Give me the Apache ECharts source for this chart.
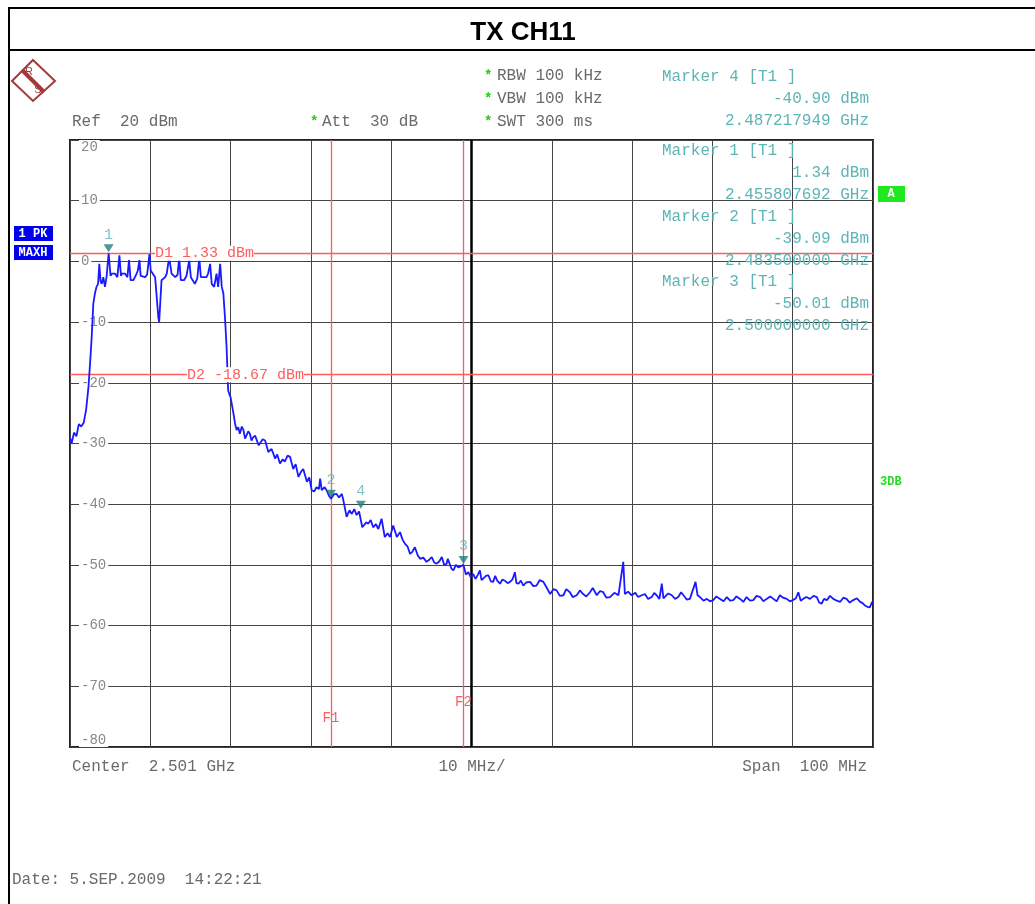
<!DOCTYPE html>
<html>
<head>
<meta charset="utf-8">
<script src="https://cdn.jsdelivr.net/npm/echarts@6/dist/echarts.min.js"></script>
<style>
  html, body { margin: 0; padding: 0; background: #fff; }
  #main { width: 1035px; height: 904px; }
</style>
</head>
<body>
<div id="main"></div>
<script>
// trace: offset from center 2.501 GHz in MHz, level in dBm
var traceMHz = [
  -50.0, -49.8, -49.5, -49.2, -48.9, -48.6, -48.3, -48.0, -47.7, -47.5, -47.3, -47.1, -46.9, -46.7, -46.5,
  -46.35, -46.2, -46.05, -45.85, -45.65, -45.45, -45.19, -44.95, -44.8, -44.4, -44.1, -43.85, -43.65, -43.55,
  -43.15, -42.85, -42.65, -42.45, -42.1, -41.7, -41.55, -41.35, -41.2, -41.05, -40.65, -40.4, -40.1, -39.95,
  -39.4, -39.0, -38.9, -38.7, -38.6, -38.15, -37.95, -37.65, -37.35, -36.9, -36.6, -36.4, -36.2, -35.8, -35.5,
  -35.15, -34.95, -34.45, -34.15, -33.9, -33.7, -33.0, -32.8, -32.55, -32.35, -32.05, -31.75, -31.55, -31.3,
  -31.1, -30.9, -30.7, -30.5, -30.3, -30.0, -29.65, -29.45, -29.25, -29.05, -28.85, -28.6, -28.4, -28.2, -28.0,
  -27.8, -27.6, -27.4, -27.2, -26.95, -26.75, -26.5, -26.35, -26.0, -25.7, -25.3, -24.9, -24.45, -24.2, -23.85,
  -23.5, -23.25, -22.9, -22.6, -22.2, -21.9, -21.55, -21.2, -20.95, -20.5, -20.2, -19.9, -19.6, -19.3, -19.0,
  -18.85, -18.65, -18.3, -18.05, -17.75, -17.5, -17.15, -16.8, -16.5, -16.15, -15.95, -15.55, -15.2, -14.9,
  -14.6, -14.3, -14.0, -13.78, -13.6, -13.45, -13.1, -12.85, -12.55, -12.25, -11.9, -11.6, -11.2, -10.8, -10.45,
  -10.15, -9.75, -9.3, -8.9, -8.6, -8.3, -7.95, -7.65, -7.35, -7.05, -6.7, -6.4, -6.0, -5.6, -5.3, -4.95, -4.65,
  -4.35, -4.0, -3.7, -3.4, -3.1, -2.95, -2.75, -2.5, -2.25, -1.95, -1.65, -1.3, -1.0, -0.7, -0.4, -0.1, 0.2, 0.5,
  0.8, 1.05, 1.25, 1.45, 1.8, 2.1, 2.4, 2.7, 2.95, 3.2, 3.55, 3.85, 4.15, 4.5, 4.8, 5.1, 5.4, 5.6, 5.85, 6.15,
  6.45, 6.8, 7.3, 7.7, 8.1, 8.5, 8.95, 9.3, 9.8, 10.2, 10.6, 11.0, 11.45, 11.8, 12.25, 12.6, 13.1, 13.5, 13.9,
  14.3, 14.75, 15.1, 15.6, 16.0, 16.4, 16.8, 17.25, 17.8, 18.3, 18.9, 19.1, 19.5, 19.95, 20.4, 20.75, 21.2, 21.6,
  22.0, 22.45, 22.75, 23.05, 23.4, 23.7, 23.9, 24.1, 24.5, 24.95, 25.35, 25.75, 26.1, 26.4, 26.8, 27.2, 27.9,
  28.15, 28.45, 28.9, 29.3, 29.7, 30.1, 30.5, 30.95, 31.4, 31.8, 32.2, 32.6, 33.0, 33.45, 33.85, 34.25, 34.7,
  35.1, 35.5, 35.95, 36.35, 36.75, 37.2, 37.6, 38.0, 38.4, 38.8, 39.25, 39.65, 40.05, 40.4, 40.7, 41.0, 41.3,
  41.7, 42.15, 42.6, 43.0, 43.3, 43.6, 43.9, 44.25, 44.65, 45.05, 45.5, 45.9, 46.3, 46.7, 47.1, 47.55, 48.0,
  48.4, 48.7, 49.0, 49.3, 49.6, 49.9, 50.0
];
var traceDbm = [
  -29.0, -30.0, -28.2, -28.8, -26.8, -27.2, -26.6, -24.5, -20.7, -16.8, -12.5, -7.0, -5.3, -4.2, -3.7,
  -0.4, -3.2, -3.7, -2.6, -4.2, -2.6, 1.34, -2.4, -2.0, -2.0, -2.6, 1.0, -2.4, -2.0,
  -2.0, -2.6, 0.2, -3.1, -3.1, -2.0, -1.5, 0.2, -2.4, -2.6, -2.6, -2.2, 1.2, -1.5,
  -2.6, -9.2, -10.0, -10.0, -3.1, -2.6, -2.0, 0.7, -2.0, -2.6, -2.2, 0.7, -3.1, -3.1, -2.4,
  0.2, -2.6, -3.7, -2.8, 0.5, -2.6, -2.6, -2.0, -0.4, -3.7, -4.2, -2.0, -4.2, -0.4,
  -4.2, -5.3, -9.2, -14.1, -21.3, -22.4, -25.0, -26.7, -27.8, -27.3, -28.4, -27.2, -27.8, -29.2, -29.0,
  -28.0, -28.4, -29.5, -29.0, -28.7, -29.0, -30.3, -30.0, -29.3, -29.5, -31.4, -30.9, -32.5, -31.8, -33.3,
  -32.6, -33.0, -32.0, -32.2, -34.2, -33.4, -35.5, -34.6, -34.2, -36.3, -35.6, -37.7, -37.9, -37.2, -37.5,
  -35.8, -37.7, -37.2, -37.7, -38.6, -39.1, -38.4, -38.3, -38.9, -38.3, -39.4, -42.1, -41.0, -41.6,
  -40.8, -41.8, -41.2, -40.9, -43.8, -43.8, -43.0, -43.2, -42.6, -43.8, -43.3, -44.1, -42.4, -45.4, -44.8,
  -45.4, -43.5, -45.4, -44.6, -45.8, -46.5, -47.0, -48.2, -47.8, -47.1, -48.4, -49.0, -48.8, -49.5, -49.2, -48.7, -49.6,
  -49.8, -49.4, -48.7, -50.0, -49.8, -49.0, -48.7, -50.6, -50.9, -50.0, -50.4, -50.2, -50.0, -51.6, -51.2, -52.0, -51.5, -52.3,
  -51.6, -50.9, -52.5, -52.6, -51.8, -51.7, -52.7, -52.8, -51.8, -52.6, -53.1, -52.4, -52.6, -53.0, -52.8, -52.4, -51.2, -53.0, -53.1, -52.6,
  -53.4, -52.9, -52.8, -53.5, -53.4, -52.5, -52.8, -53.6, -54.8, -54.0, -54.2, -55.1, -55.0, -54.0, -54.5, -55.3, -55.0, -54.2, -54.8,
  -55.2, -54.5, -53.8, -55.0, -54.3, -54.5, -55.4, -55.3, -54.6, -55.0, -49.5, -54.8, -54.4, -55.0, -54.6, -55.3, -55.0, -54.8,
  -55.6, -55.3, -54.6, -55.0, -55.6, -53.1, -55.5, -55.3, -54.7, -55.0, -55.6, -55.3, -54.5, -55.0, -55.7, -55.6, -52.8,
  -55.0, -55.3, -55.9, -55.6, -56.0, -55.8, -55.2, -55.6, -56.0, -55.3, -55.9, -55.8, -55.2, -55.6, -56.1, -55.3, -55.9,
  -55.8, -55.1, -55.3, -56.0, -55.6, -55.2, -55.6, -56.0, -55.0, -55.4, -55.6, -56.0, -55.8, -55.5, -54.5, -55.9, -55.6,
  -55.3, -55.6, -55.1, -55.3, -56.2, -56.4, -55.6, -55.8, -55.1, -55.6, -55.9, -56.1, -55.4, -55.6, -56.2, -55.8, -55.5,
  -56.1, -56.3, -56.7, -56.9, -57.0, -56.1, -56.3
];

// markers
var markerNames = ['1', '2', '3', '4'];
var markerMHz = [-45.192, -17.5, -1.0, -13.782];
var markerDbm = [1.34, -39.09, -50.01, -40.90];
var markerFreqText = ['2.455807692 GHz', '2.483500000 GHz', '2.500000000 GHz', '2.487217949 GHz'];
var markerListOrder = [3, 0, 1, 2];

// display lines and frequency lines
var dLineNames = ['D1', 'D2'];
var dLineDbm = [1.33, -18.67];
var fLineNames = ['F1', 'F2'];
var fLineMHz = [-17.5, -1.0];

var yTicks = [20, 10, 0, -10, -20, -30, -40, -50, -60, -70, -80];

var mono = '"Liberation Mono", "DejaVu Sans Mono", monospace';
var grey = '#6a6a6a';
var teal = '#5db5b5';
var red = '#ff5c5c';

var chart = echarts.init(document.getElementById('main'));

var tracePts = traceMHz.map(function (f, i) { return [f, traceDbm[i]]; });
var markerPts = markerMHz.map(function (f, i) { return { value: [f, markerDbm[i]], name: markerNames[i] }; });

var option = {
  animation: false,
  backgroundColor: '#fff',
  grid: { left: 70, top: 140, right: 162, bottom: 157, show: true, borderColor: '#222', borderWidth: 2 },
  xAxis: {
    type: 'value', min: -50, max: 50, interval: 10,
    axisLine: { show: false }, axisTick: { show: false }, axisLabel: { show: false },
    splitLine: { show: true, lineStyle: { color: '#444', width: 1 } }
  },
  yAxis: {
    type: 'value', min: -80, max: 20, interval: 10,
    axisLine: { show: false }, axisTick: { show: false },
    axisLabel: {
      inside: true, margin: 9, color: '#888', fontFamily: mono, fontSize: 14,
      backgroundColor: '#fff', padding: [0, 2],
      verticalAlignMaxLabel: 'top', verticalAlignMinLabel: 'bottom',
      formatter: function (v) { return yTicks.indexOf(v) >= 0 ? String(v) : ''; }
    },
    splitLine: { show: true, lineStyle: { color: '#444', width: 1 } }
  },
  series: [
    {
      type: 'line', data: [], silent: true,
      markLine: {
        symbol: 'none', silent: true, label: { show: false },
        data: [{ xAxis: 0, lineStyle: { color: '#000', width: 2.5, type: 'solid' } }]
      }
    },
    {
      type: 'line', data: [], silent: true,
      markLine: {
        symbol: 'none', silent: true, label: { show: false },
        lineStyle: { color: red, width: 1.3, type: 'solid' },
        data: dLineDbm.map(function (v) { return { yAxis: v }; })
          .concat(fLineMHz.map(function (v) { return { xAxis: v }; }))
      }
    },
    {
      type: 'line', data: tracePts, showSymbol: false, smooth: false,
      lineStyle: { color: '#1a1aff', width: 1.8 }, z: 5
    },
    {
      type: 'scatter', data: markerPts, symbol: 'triangle', symbolRotate: 180,
      symbolSize: [10, 8], symbolOffset: [0, -5],
      itemStyle: { color: '#1d7f7c' }, z: 6,
      label: {
        show: true, position: 'top', distance: 2, color: teal,
        fontFamily: mono, fontSize: 15, formatter: function (p) { return p.name; }
      }
    }
  ]
};
chart.setOption(option);

function px(x, y) { return chart.convertToPixel({ gridIndex: 0 }, [x, y]); }

var g = [];
// outer frame and title
g.push({ type: 'line', shape: { x1: 8, y1: 8, x2: 1035, y2: 8 }, style: { stroke: '#000', lineWidth: 2 } });
g.push({ type: 'line', shape: { x1: 8, y1: 50, x2: 1035, y2: 50 }, style: { stroke: '#000', lineWidth: 2 } });
g.push({ type: 'line', shape: { x1: 9, y1: 8, x2: 9, y2: 904 }, style: { stroke: '#000', lineWidth: 2 } });
g.push({ type: 'text', x: 523, y: 33, style: { text: 'TX CH11', font: 'bold 26px "Liberation Sans", Arial, sans-serif', fill: '#000', align: 'center', verticalAlign: 'middle' } });

// R&S logo
g.push({ type: 'polygon', shape: { points: [[33, 60], [55, 81], [33, 101], [12, 81]] }, style: { fill: 'none', stroke: '#a33a3a', lineWidth: 2 } });
g.push({ type: 'line', shape: { x1: 22, y1: 70, x2: 44, y2: 92 }, style: { stroke: '#a33a3a', lineWidth: 4 } });
g.push({ type: 'text', x: 29, y: 72, style: { text: 'R', font: '11px "Liberation Sans", sans-serif', fill: '#a33a3a', align: 'center', verticalAlign: 'middle' } });
g.push({ type: 'text', x: 38, y: 90, style: { text: 'S', font: '11px "Liberation Sans", sans-serif', fill: '#a33a3a', align: 'center', verticalAlign: 'middle' } });

function txt(x, y, s, color, align) {
  g.push({ type: 'text', x: x, y: y, z: 10, style: { text: s, font: '16px ' + mono, fill: color || grey, align: align || 'left', verticalAlign: 'middle' } });
}
function star(x, y) {
  g.push({ type: 'text', x: x, y: y, z: 10, style: { text: '*', font: 'bold 14px ' + mono, fill: '#22cc22', align: 'left', verticalAlign: 'middle' } });
}

// settings
star(484, 76); txt(497, 76, 'RBW 100 kHz');
star(484, 99); txt(497, 99, 'VBW 100 kHz');
star(484, 122); txt(497, 122, 'SWT 300 ms');
txt(72, 122, 'Ref  20 dBm');
star(310, 122); txt(322, 122, 'Att  30 dB');

// marker info block: first entry above the diagram, the rest stacked inside it
markerListOrder.forEach(function (mi, k) {
  var y0 = k === 0 ? 77 : 151 + (k - 1) * 65.5;
  txt(662, y0, 'Marker ' + markerNames[mi] + ' [T1 ]', teal);
  txt(869, y0 + 22, markerDbm[mi].toFixed(2) + ' dBm', teal, 'right');
  txt(869, y0 + 44, markerFreqText[mi], teal, 'right');
});

// side badges
g.push({ type: 'rect', shape: { x: 14, y: 226, width: 39, height: 15 }, style: { fill: '#0000ee' } });
g.push({ type: 'text', x: 33, y: 234, style: { text: '1 PK', font: 'bold 12px ' + mono, fill: '#fff', align: 'center', verticalAlign: 'middle' } });
g.push({ type: 'rect', shape: { x: 14, y: 245, width: 39, height: 15 }, style: { fill: '#0000ee' } });
g.push({ type: 'text', x: 33, y: 253, style: { text: 'MAXH', font: 'bold 12px ' + mono, fill: '#fff', align: 'center', verticalAlign: 'middle' } });
g.push({ type: 'rect', shape: { x: 878, y: 186, width: 27, height: 16 }, style: { fill: '#1fe81f' } });
g.push({ type: 'text', x: 891, y: 194, style: { text: 'A', font: 'bold 12px ' + mono, fill: '#fff', align: 'center', verticalAlign: 'middle' } });
g.push({ type: 'text', x: 880, y: 482, style: { text: '3DB', font: 'bold 12px ' + mono, fill: '#22dd22', align: 'left', verticalAlign: 'middle' } });

// display-line labels
var dLabelStart = [155, 187];
dLineNames.forEach(function (n, i) {
  var p = px(0, dLineDbm[i]);
  g.push({ type: 'text', x: dLabelStart[i], y: p[1], z: 10, style: {
    text: n + ' ' + dLineDbm[i].toFixed(2) + ' dBm', font: '15px ' + mono, fill: red,
    backgroundColor: '#fff', align: 'left', verticalAlign: 'middle' } });
});
// frequency-line labels
var fLabelY = [718, 702];
fLineNames.forEach(function (n, i) {
  var p = px(fLineMHz[i], 0);
  g.push({ type: 'text', x: p[0], y: fLabelY[i], z: 10, style: {
    text: n, font: '14px ' + mono, fill: red, align: 'center', verticalAlign: 'middle' } });
});

// bottom annotations
txt(72, 767, 'Center  2.501 GHz');
txt(472, 767, '10 MHz/', grey, 'center');
txt(867, 767, 'Span  100 MHz', grey, 'right');
txt(12, 880, 'Date: 5.SEP.2009  14:22:21');

chart.setOption({ graphic: { elements: g } });
</script>
</body>
</html>
